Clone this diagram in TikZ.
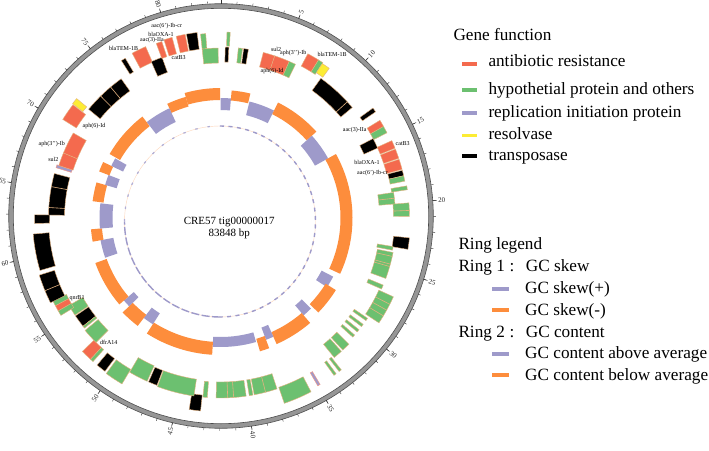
\documentclass[tikz,border=0pt]{standalone}
\usepackage{fontspec}
\setmainfont{Liberation Serif}
\definecolor{resred}{RGB}{244,106,78}
\definecolor{hypgreen}{RGB}{108,192,112}
\definecolor{reppurple}{RGB}{158,154,202}
\definecolor{resyellow}{RGB}{252,236,52}
\definecolor{gcorange}{RGB}{253,141,60}
\definecolor{fedge}{RGB}{228,178,128}
\definecolor{ringgray}{RGB}{150,150,150}
\newcommand{\genebox}[5]{\filldraw[fill=#5,draw=fedge,line width=0.4pt] (#1:#3) arc[start angle=#1,end angle=#2,radius=#3] -- (#2:#4) arc[start angle=#2,end angle=#1,radius=#4] -- cycle;}
\newcommand{\gcbar}[5]{\fill[#5] (#1:#3) arc[start angle=#1,end angle=#2,radius=#3] -- (#2:#4) arc[start angle=#2,end angle=#1,radius=#4] -- cycle;}
\newcommand{\genediv}[3]{\draw[fedge,line width=0.6pt] (#1:#2) -- (#1:#3);}
\tikzset{
  ticklab/.style={font=\fontsize{7}{8}\selectfont, inner sep=0pt, text=black!85, anchor=center},
  glab/.style={font=\fontsize{6}{7}\selectfont, inner sep=0pt},
  legtext/.style={font=\fontsize{17.2}{20}\selectfont, anchor=base west, inner sep=0pt},
  titletext/.style={font=\fontsize{11}{13}\selectfont, anchor=base, inner sep=0pt}
}
\begin{document}
\begin{tikzpicture}[x=1pt,y=1pt]
\useasboundingbox (0,-450) rectangle (709,0);
\fill[white] (0,-450) rectangle (709,0);

% ---------- outer scale ring ----------
\begin{scope}[shift={(221,-216)}]
  \draw[line width=4.4pt, ringgray] (0,0) circle[radius=210];
  \draw[line width=0.6pt, black!70] (0,0) circle[radius=212.3];
  \draw[line width=0.6pt, black!70] (0,0) circle[radius=207.7];
  \foreach \k in {0,...,83}{
    \pgfmathsetmacro\ang{90-\k*4.293483}
    \draw[line width=0.4pt, black!80] (\ang:212.3) -- (\ang:214.8);
  }
  \foreach \k in {0,5,...,80}{
    \pgfmathsetmacro\ang{90-\k*4.293483}
    \draw[line width=0.5pt, black!80] (\ang:212.3) -- (\ang:216.3);
  }
  \node[ticklab, rotate=68.53] (t5) at (68.53:219.6) {5};
  \foreach \k in {10,15,...,40}{
    \pgfmathsetmacro\ang{90-\k*4.293483}
    \node[ticklab, rotate=\ang] (t\k) at (\ang:221.2) {\k};
  }
  \foreach \k in {45,50,...,80}{
    \pgfmathsetmacro\ang{90-\k*4.293483}
    \pgfmathsetmacro\rot{\ang+180}
    \node[ticklab, rotate=\rot] (t\k) at (\ang:221.2) {\k};
  }
\end{scope}

% ---------- GC skew ring (inner) ----------
\begin{scope}[shift={(220,-221.5)}]
  \draw[line width=0.4pt, gcorange!35] (0,0) circle[radius=95.5];
  \draw[line width=1.4pt, reppurple, dash pattern=on 4pt off 4.5pt] (90:95.5) arc[start angle=90, end angle=-90, radius=95.5];
  \draw[line width=1.4pt, reppurple, dash pattern=on 8pt off 2.5pt] (-90:95.5) arc[start angle=-90, end angle=-180, radius=95.5];
  \draw[line width=1.2pt, reppurple!80, dash pattern=on 2.5pt off 10pt] (180:95.5) arc[start angle=180, end angle=90, radius=95.5];
\end{scope}

% ---------- GC content ring + genes ----------
\begin{scope}[shift={(220.5,-218)}]
  % GC content
  \gcbar{106}{115}{116}{126}{gcorange}
  \gcbar{90.2}{106}{118}{130}{gcorange}
  \gcbar{85}{90}{108}{120}{reppurple}
  \gcbar{76.5}{85}{118}{128}{gcorange}
  \gcbar{63.5}{76}{106}{120}{reppurple}
  \gcbar{42}{63.5}{116}{129}{gcorange}
  \gcbar{29}{42}{108}{123}{reppurple}
  \gcbar{-25}{29}{120}{132}{gcorange}
  \gcbar{-33}{-27.5}{114}{127}{reppurple}
  \gcbar{-44}{-32}{124}{136}{gcorange}
  \gcbar{-49.5}{-45}{115}{128}{reppurple}
  \gcbar{-66}{-49.5}{125}{138}{gcorange}
  \gcbar{-69.5}{-66}{117}{130}{reppurple}
  \gcbar{-73.5}{-69.5}{126}{139}{gcorange}
  \gcbar{-93.5}{-74}{119}{129}{reppurple}
  \gcbar{-122.5}{-93.5}{124}{137}{gcorange}
  \gcbar{-127.5}{-122.5}{113}{126}{reppurple}
  \gcbar{-136}{-127.5}{122}{136}{gcorange}
  \gcbar{-139.5}{-136}{114}{127}{reppurple}
  \gcbar{-160.2}{-139.5}{121}{133}{gcorange}
  \gcbar{-169.5}{-161}{109}{122}{reppurple}
  \gcbar{-175}{-169.5}{119}{130}{gcorange}
  \gcbar{173}{185}{108}{121}{reppurple}
  \gcbar{164}{172.5}{118}{129}{gcorange}
  \gcbar{159}{164}{108}{120}{reppurple}
  \gcbar{154.5}{159}{119}{130}{gcorange}
  \gcbar{150.5}{154.5}{108}{121}{reppurple}
  \gcbar{127.6}{150}{116}{128}{gcorange}
  \gcbar{115}{127.5}{106}{121}{reppurple}

  % genes
  \genebox{120.8}{122.2}{170}{186}{black}
  \genebox{113.6}{118.2}{170}{187}{resred}
  \genebox{110}{113.9}{155}{171}{black}
  \genebox{108.4}{110.2}{170}{186}{resred}
  \genebox{105}{107.6}{170}{187}{resred}
  \genebox{100.9}{103.7}{170}{187}{resred}
  \genebox{97.2}{100.5}{170}{187}{black}
  \genebox{90.8}{96.2}{155}{170}{hypgreen}
  \genebox{94.6}{96.2}{170}{185}{hypgreen}
  \genebox{87}{88}{172}{186}{hypgreen}
  \genebox{87.2}{88.4}{156}{171}{black}
  \genebox{82.6}{84}{156}{171}{hypgreen}
  \genebox{80.6}{82.2}{156}{171}{black}
  \genebox{71.5}{75.5}{156}{171}{resred}
  \genebox{66.3}{71.5}{156}{171}{resred}
  \genebox{64}{66.3}{156}{171}{hypgreen}
  \genebox{58.2}{62}{172}{186}{resred}
  \genebox{56.6}{58.2}{172}{186}{hypgreen}
  \genebox{54}{56.6}{174}{185}{resyellow}
  \genebox{40}{54.3}{157}{172}{black}
  \genediv{42.5}{157}{172}
  \genebox{34.4}{35.8}{172}{188}{black}
  \genebox{29.3}{31.5}{172}{187}{resred}
  \genebox{27.1}{29.3}{172}{187}{hypgreen}
  \genebox{24}{27.5}{157}{172}{black}
  \genebox{21.8}{24.3}{172}{188}{resred}
  \genebox{18.5}{21.5}{172}{188}{resred}
  \genebox{15}{18.2}{172}{188}{resred}
  \genebox{13}{14.7}{173}{188}{black}
  \genebox{11.3}{13}{173}{188}{hypgreen}
  \genebox{8.6}{9.8}{173}{189}{hypgreen}
  \genebox{4.6}{8.4}{159}{175}{hypgreen}
  \genediv{6.5}{159}{175}
  \genebox{0.5}{4.6}{173}{189}{hypgreen}
  \genediv{2.3}{173}{189}
  \genebox{-9.5}{-6}{174}{190}{black}
  \genebox{-10.6}{-9.4}{159}{175}{hypgreen}
  \genebox{-20.1}{-11.3}{160}{176}{hypgreen}
  \genediv{-12.6}{160}{176}
  \genediv{-15.2}{160}{176}
  \genediv{-16}{160}{176}
  \genebox{-23.8}{-22.4}{160}{176}{hypgreen}
  \genebox{-33.5}{-24.5}{174}{190}{hypgreen}
  \genediv{-27}{174}{190}
  \genediv{-29}{174}{190}
  \genediv{-31}{174}{190}
  \genebox{-35.2}{-34.3}{162}{178}{hypgreen}
  \genebox{-37.6}{-36.7}{162}{178}{hypgreen}
  \genebox{-39.8}{-38.9}{162}{178}{hypgreen}
  \genebox{-42}{-41.1}{162}{178}{hypgreen}
  \genebox{-47.2}{-44.5}{163}{180}{hypgreen}
  \genebox{-50.8}{-47.8}{163}{180}{hypgreen}
  \genebox{-52.3}{-51.5}{178}{194}{hypgreen}
  \genebox{-54.2}{-53.4}{178}{194}{hypgreen}
  \filldraw[fill=reppurple,draw=resred!70,line width=0.4pt] (-59.9:179) arc[start angle=-59.9,end angle=-59.1,radius=179] -- (-59.1:194) arc[start angle=-59.1,end angle=-59.9,radius=194] -- cycle;
  \genebox{-71}{-62.5}{179}{196}{hypgreen}
  \genebox{-79.2}{-71.7}{164}{180}{hypgreen}
  \genediv{-75.5}{164}{180}
  \genebox{-80.8}{-79.6}{164}{180}{hypgreen}
  \genebox{-91.4}{-81.8}{164}{180}{hypgreen}
  \genediv{-85.8}{164}{180}
  \genediv{-87.7}{164}{180}
  \genebox{-95.6}{-94.2}{164}{180}{hypgreen}
  \genebox{-99.3}{-95.9}{178}{194}{black}
  \genebox{-110.5}{-98.5}{163}{180}{hypgreen}
  \genebox{-113.7}{-110.8}{163}{179}{black}
  \genebox{-120.5}{-114.2}{162}{179}{hypgreen}
  \genebox{-126.3}{-120.7}{176}{193}{hypgreen}
  \genebox{-130}{-127}{176}{192}{black}
  \genebox{-136}{-132.6}{176}{192}{resred}
  \genebox{-132.6}{-131.6}{176}{192}{hypgreen}
  \genebox{-140.3}{-135}{159}{176}{hypgreen}
  \genebox{-146}{-141.8}{159}{175}{black}
  \genebox{-141.8}{-141}{159}{175}{hypgreen}
  \genebox{-150}{-146.3}{159}{175}{hypgreen}
  \genebox{-153.6}{-152}{172}{187}{hypgreen}
  \genebox{-152}{-150.2}{172}{187}{resred}
  \genebox{-150.2}{-148.6}{172}{187}{hypgreen}
  \genebox{-162.5}{-153.5}{174}{190}{black}
  \genediv{-157.5}{174}{190}
  \genebox{-175.1}{-163.8}{172}{188}{black}
  \genebox{179}{181.7}{171}{186}{black}
  \genebox{165}{179}{156}{172}{black}
  \genediv{169.5}{156}{172}
  \genediv{176.5}{156}{172}
  \filldraw[fill=reppurple,draw=resred!70,line width=0.4pt] (162:156) arc[start angle=162,end angle=163,radius=156] -- (163:172) arc[start angle=163,end angle=162,radius=172] -- cycle;
  \genebox{157.5}{162}{155}{170}{resred}
  \genebox{150}{157.5}{155}{170}{resred}
  \genebox{142.5}{148}{170}{186}{resred}
  \genebox{140.3}{142.3}{174}{187}{resyellow}
  \genebox{125.5}{140.5}{156}{171}{black}
  \genediv{130}{156}{171}
  \genediv{134.5}{156}{171}
\end{scope}

% ---------- gene labels ----------
\node[glab] (l1) at (166.7,-26) {aac(6{'})-Ib-cr};
\node[glab] (l2) at (161,-34) {blaOXA-1};
\node[glab] (l3) at (152,-40.5) {aac(3)-IIa};
\node[glab] (l4) at (123.5,-48.3) {blaTEM-1B};
\node[glab] (l5) at (178.7,-58) {catB3};
\node[glab] (l6) at (276,-49.5) {sul2};
\node[glab] (l7) at (293.3,-53.5) {aph(3{'}{'})-Ib};
\node[glab] (l8) at (272,-71) {aph(6)-Id};
\node[glab] (l9) at (332,-54) {blaTEM-1B};
\node[glab] (l10) at (354.7,-130) {aac(3)-IIa};
\node[glab] (l11) at (402.7,-144) {catB3};
\node[glab] (l12) at (367,-162) {blaOXA-1};
\node[glab] (l13) at (372.5,-173) {aac(6{'})-Ib-cr};
\node[glab] (l14) at (94,-126) {aph(6)-Id};
\node[glab] (l15) at (51.7,-144) {aph(3{'}{'})-Ib};
\node[glab] (l16) at (53.3,-159) {sul2};
\node[glab] (l17) at (77,-298) {qnrB1};
\node[glab] (l18) at (108.7,-342.5) {dfrA14};

% ---------- centre title ----------
\node[titletext] (title1) at (229.2,-224.5) {CRE57 tig00000017};
\node[titletext] (title2) at (229.2,-236) {83848 bp};

% ---------- gene function legend ----------
\node[legtext] (gfhead) at (453.3,-40) {Gene function};
\fill[resred] (461.7,-61.5) rectangle (477,-65.5);
\node[legtext] (gf1) at (488.3,-66) {antibiotic resistance};
\fill[hypgreen] (461.7,-88.3) rectangle (477,-92);
\node[legtext] (gf2) at (488.3,-94.5) {hypothetial protein and others};
\fill[reppurple] (461.7,-111) rectangle (477,-114.7);
\node[legtext] (gf3) at (488.3,-117) {replication initiation protein};
\fill[resyellow] (461.7,-133.5) rectangle (477,-137.2);
\node[legtext] (gf4) at (488.3,-139.3) {resolvase};
\fill[black] (461.7,-154.3) rectangle (477,-158);
\node[legtext] (gf5) at (488.3,-160.7) {transposase};

% ---------- ring legend ----------
\node[legtext] (rlhead) at (458.3,-249.5) {Ring legend};
\node[legtext] (r1a) at (458.3,-271.5) {Ring 1};
\node[legtext] (r1b) at (509.5,-271.5) {:};
\node[legtext] (r1c) at (525.7,-271.5) {GC skew};
\fill[reppurple] (491.7,-286.7) rectangle (509,-290.7);
\node[legtext] (r1d) at (525,-293.5) {GC skew(+)};
\fill[gcorange] (491.7,-307.7) rectangle (509,-311.7);
\node[legtext] (r1e) at (525,-315.5) {GC skew(-)};
\node[legtext] (r2a) at (458.3,-337) {Ring 2};
\node[legtext] (r2b) at (509.5,-337) {:};
\node[legtext] (r2c) at (525.7,-337) {GC content};
\fill[reppurple] (491.7,-351.7) rectangle (509,-355.7);
\node[legtext] (r2d) at (525,-358.5) {GC content above average};
\fill[gcorange] (491.7,-373) rectangle (509,-377);
\node[legtext] (r2e) at (525,-380) {GC content below average};
\end{tikzpicture}
\end{document}
